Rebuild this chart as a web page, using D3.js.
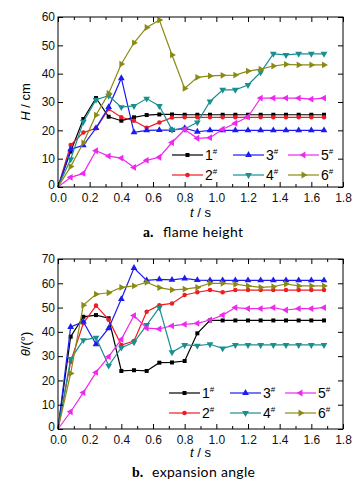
<!DOCTYPE html>
<html><head><meta charset="utf-8">
<script src="https://cdn.jsdelivr.net/npm/d3@7"></script>
<style>body{margin:0;background:#fff}svg{display:block}</style>
</head><body>
<svg id="c" width="358" height="485"></svg>
<script>
const T = [0,0.08,0.16,0.24,0.32,0.40,0.48,0.56,0.64,0.72,0.80,0.88,0.96,1.04,1.12,1.20,1.28,1.36,1.44,1.52,1.60,1.68];
const H1 = [0,12.5,24,31.4,24.8,23.4,24.6,25.4,25.6,25.6,25.5,25.5,25.5,25.5,25.5,25.5,25.5,25.5,25.5,25.5,25.5,25.5];
const H2 = [0,14.8,19.2,20.7,27.5,24.6,23.4,20.9,22.8,24.5,24.6,24.6,24.6,24.6,24.6,24.6,24.6,24.6,24.6,24.6,24.6,24.6];
const H3 = [0,13.3,14.7,20.8,28.2,38.4,19.3,20,20.1,20.1,20.8,19.5,20,20,20,20,20,20,20,20,20,20];
const H4 = [0,9.8,23,30.8,32.2,28.2,28.6,31.2,28.6,20.2,20.5,22.8,30.2,34.3,34.3,36,40.5,47,46.6,47,47,47];
const H5 = [0,3.4,4.8,12.8,10.9,10.2,6.9,9.4,10.5,15.7,20.3,17.2,17.4,20.4,22.5,24.8,31.4,31.4,31.4,31.4,31,31.4];
const H6 = [0,7.2,15.6,25.4,33,43.4,50.9,56.3,58.9,46.6,34.8,38.7,39.2,39.4,39.5,40.9,41.6,42.7,43.3,43.1,43.1,43.1];
const A1 = [0,38,46.2,46.9,45.6,23.9,24.2,23.9,27.3,27.4,28,39.4,44.7,44.7,44.7,44.7,44.7,44.7,44.7,44.7,44.7,44.7];
const A2 = [0,27.7,43.5,50.8,45,34.6,36.2,48.3,51,51.7,55.2,56.3,57.2,56.3,57.2,57.2,57.2,57.2,57.2,57.2,57.2,57.2];
const A3 = [0,42,44.2,34.9,41.5,53.5,66.3,61.2,61.6,61.4,62,61.3,61.2,61.2,61.2,61.2,61.2,61.2,61.2,61.2,61.2,61.2];
const A4 = [0,28.8,36.6,37.6,26.1,33.5,35.7,42.8,50,31.6,34.6,34.3,34.9,33.2,34.6,34.6,34.6,34.6,34.6,34.6,34.6,34.6];
const A5 = [0,7.1,15,23.3,29.8,36.9,46.7,41.5,41.2,42.5,43.1,43.5,44.9,46.9,50,49.6,49.6,50,49,49.6,49.6,50];
const A6 = [0,22.9,51,55.5,56.1,58.3,58.9,60.4,58.2,57.3,57.6,58.3,60,60,59.6,58.9,58.3,58.6,59.7,58.9,58.9,58.9];
const seriesNames = ["1","2","3","4","5","6"];
const colors = ["#000000","#ee1c24","#1c1cf0","#1a8f8f","#ee28ee","#8a8a14"];
const xTicks = [0,0.2,0.4,0.6,0.8,1.0,1.2,1.4,1.6,1.8];

const svg = d3.select("#c");
const x = d3.scaleLinear().domain([0,1.8]).range([58,343]);

// marker: 0 square,1 circle,2 up,3 down,4 left,5 right
function marker(g, k, cx, cy, col){
  let sym, rot=0, size=18;
  if(k===0){sym=d3.symbolSquare;size=16;}
  else if(k===1){sym=d3.symbolCircle;size=16;}
  else {sym=d3.symbolTriangle; rot=[0,180,-90,90][k-2]; size=20;}
  g.append("path").attr("d", d3.symbol().type(sym).size(size)())
    .attr("transform",`translate(${cx},${cy}) rotate(${rot})`)
    .attr("fill",col).attr("stroke","none");
}

function panel(y, yTicks, data, ylab, caption, capY, xlabY, legY, legCols){
  const [x0,x1] = x.range(); const [yb,yt] = y.range();
  const g = svg.append("g");
  data.forEach((arr,k)=>{
    const line = d3.line().x((d,i)=>x(T[i])).y(d=>y(d));
    g.append("path").attr("d",line(arr)).attr("fill","none").attr("stroke",colors[k]).attr("stroke-width",1.2);
    arr.forEach((d,i)=>{ if(i>0) marker(g,k,x(T[i]),y(d),colors[k]); });
  });
  g.append("rect").attr("x",x0).attr("y",yt).attr("width",x1-x0).attr("height",yb-yt)
    .attr("fill","none").attr("stroke","#000").attr("stroke-width",1);
  const bx = d3.axisBottom(x).tickValues(xTicks).tickFormat(d3.format(".1f")).tickSize(-5).tickPadding(6);
  g.append("g").attr("transform",`translate(0,${yb})`).call(bx);
  const minor = [0.1,0.3,0.5,0.7,0.9,1.1,1.3,1.5,1.7];
  g.append("g").attr("transform",`translate(0,${yt})`).call(d3.axisTop(x).tickValues(xTicks).tickSize(-5).tickFormat(""));
  g.append("g").attr("transform",`translate(0,${yb})`).call(d3.axisBottom(x).tickValues(minor).tickSize(-3).tickFormat(""));
  g.append("g").attr("transform",`translate(0,${yt})`).call(d3.axisTop(x).tickValues(minor).tickSize(-3).tickFormat(""));
  const ly = d3.axisLeft(y).tickValues(yTicks).tickFormat(d3.format("d")).tickSize(-5).tickPadding(3);
  const lyg = g.append("g").attr("transform",`translate(${x0},0)`).call(ly);
  lyg.selectAll(".tick").filter(d=>d===0).select("text").attr("dy","0.1em");
  g.append("g").attr("transform",`translate(${x1},0)`).call(d3.axisRight(y).tickValues(yTicks).tickSize(-5).tickFormat(""));
  g.selectAll(".domain").remove();
  g.selectAll(".tick line").attr("stroke","#000");
  g.selectAll(".tick text").attr("font-family","Liberation Sans, Arial, sans-serif").attr("font-size",12).attr("fill","#111");
  const yl = g.append("text").attr("transform",`translate(30,${(yt+yb)/2}) rotate(-90)`)
    .attr("text-anchor","middle").attr("font-family","Liberation Sans, Arial, sans-serif").attr("font-size",13);
  ylab(yl);
  const xl = g.append("text").attr("x",(x0+x1)/2).attr("y",xlabY).attr("text-anchor","middle")
    .attr("font-family","Liberation Sans, Arial, sans-serif").attr("font-size",13);
  xl.append("tspan").attr("font-style","italic").text("t");
  xl.append("tspan").text(" / s");
  const order = [[0,1],[2,3],[4,5]];
  order.forEach((pair,c)=>{
    pair.forEach((k,r)=>{
      const ly0 = legY[r]; const lx = legCols[c];
      g.append("line").attr("x1",lx).attr("x2",lx+31).attr("y1",ly0).attr("y2",ly0)
        .attr("stroke",colors[k]).attr("stroke-width",1.2);
      marker(g,k,lx+15.5,ly0,colors[k]);
      const t = g.append("text").attr("x",lx+33).attr("y",ly0+5)
        .attr("font-family","Liberation Sans, Arial, sans-serif").attr("font-size",14);
      t.append("tspan").text(seriesNames[k]);
      t.append("tspan").attr("font-size",8).attr("dy",-6).text("#");
    });
  });
  g.append("text").attr("x",caption[2]).attr("y",capY)
    .attr("font-family","Liberation Serif, Times New Roman, serif").attr("font-weight","bold").attr("font-size",14).text(caption[0]);
  g.append("text").attr("x",caption[3]).attr("y",capY)
    .attr("font-family","Lato, Open Sans, sans-serif").attr("font-size",14)
    .attr("textLength",caption[4]).attr("lengthAdjust","spacing").text(caption[1]);
}

const y1 = d3.scaleLinear().domain([0,60]).range([187,17]);
panel(y1,[0,10,20,30,40,50,60],[H1,H2,H3,H4,H5,H6],
  t=>{t.append("tspan").attr("font-style","italic").text("H"); t.append("tspan").text(" / cm");},
  ["a.","flame height",143,163,80],237,217,[155,175],[172,233,288]);

const y2 = d3.scaleLinear().domain([0,70]).range([429,259]);
panel(y2,[0,10,20,30,40,50,60,70],[A1,A2,A3,A4,A5,A6],
  t=>{t.append("tspan").attr("font-style","italic").text("θ"); t.append("tspan").text("/(°)");},
  ["b.","expansion angle",132,152,103],477,457,[393,413],[169,230,285]);
</script>
</body></html>
